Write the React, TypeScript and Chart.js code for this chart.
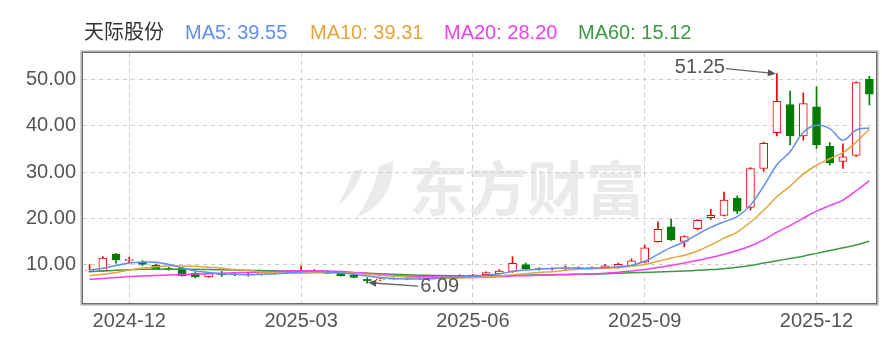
import React, { useEffect, useRef } from "react";
import { Chart, registerables } from "chart.js";

Chart.register(...registerables);

// Weekly K-line for 天际股份 with moving averages
const stockName = "天际股份";

const weekOpen = [
  8.7, 8.7, 12.3, 11.0, 10.7, 10.0, 9.3, 9.3, 8.2, 7.4,
  8.2, 8.0, 7.9, 8.0, 8.3, 8.4, 8.6, 8.7, 8.6, 8.2,
  7.8, 6.9, 6.8, 6.9, 7.0, 7.1, 7.2, 7.4, 7.6, 7.7,
  7.9, 8.1, 8.6, 10.1, 9.2, 9.1, 9.2, 9.4, 9.3, 9.3,
  9.4, 9.8, 10.6, 15.0, 18.2, 15.1, 17.8, 20.2, 20.7, 24.4,
  22.4, 30.8, 38.5, 44.6, 37.8, 44.1, 35.6, 32.3, 33.6, 50.0,
];
const weekHigh = [
  10.1, 11.8, 12.5, 11.7, 10.9, 10.2, 9.5, 9.5, 8.4, 8.4,
  8.6, 8.2, 8.2, 8.4, 8.6, 8.8, 9.8, 9.0, 8.8, 8.3,
  7.9, 7.2, 7.1, 7.2, 7.3, 7.4, 7.5, 7.8, 7.9, 8.0,
  8.5, 9.0, 11.8, 10.4, 9.4, 9.4, 9.8, 9.6, 9.6, 10.1,
  10.4, 11.3, 14.3, 19.3, 19.9, 16.3, 19.8, 22.0, 25.7, 24.9,
  31.0, 36.5, 51.25, 47.5, 47.1, 48.4, 36.4, 36.1, 49.5, 50.7,
];
const weekLow = [
  8.5, 8.6, 10.4, 10.5, 9.9, 9.0, 8.9, 7.6, 7.2, 7.3,
  7.5, 7.7, 7.6, 7.8, 8.0, 8.2, 8.4, 8.4, 8.1, 7.6,
  7.2, 6.09, 6.6, 6.8, 6.8, 6.9, 7.0, 7.2, 7.4, 7.5,
  7.8, 8.0, 8.4, 9.0, 8.9, 8.9, 8.9, 9.1, 9.1, 9.2,
  9.3, 9.7, 10.5, 14.9, 15.3, 13.9, 17.6, 19.8, 20.6, 21.1,
  21.85, 30.2, 37.8, 35.9, 36.9, 35.1, 31.5, 30.8, 33.4, 44.5,
];
const weekClose = [
  8.85, 11.5, 11.1, 11.2, 10.1, 9.2, 9.1, 7.7, 7.4, 8.2,
  7.9, 7.9, 8.0, 8.3, 8.4, 8.6, 8.7, 8.6, 8.2, 7.7,
  7.3, 6.6, 7.0, 7.0, 7.1, 7.2, 7.3, 7.6, 7.7, 7.9,
  8.35, 8.7, 10.35, 9.2, 9.1, 9.2, 9.4, 9.3, 9.5, 9.8,
  10.15, 10.9, 13.7, 17.7, 15.4, 16.1, 19.6, 20.7, 24.0, 21.6,
  30.8, 36.2, 45.3, 37.8, 44.8, 35.9, 32.0, 33.3, 49.3, 46.8,
];

const ma5 = [
  8.9, 9.3, 9.9, 10.4, 10.6, 10.6, 10.1, 9.4, 8.7, 8.4,
  8.1, 8.0, 7.9, 8.0, 8.1, 8.3, 8.5, 8.6, 8.5, 8.3,
  8.0, 7.6, 7.3, 7.1, 7.0, 7.0, 7.1, 7.25, 7.4, 7.55,
  7.8, 8.1, 8.6, 8.9, 9.1, 9.25, 9.35, 9.3, 9.3, 9.4,
  9.6, 9.95, 10.8, 12.3, 13.8, 15.0, 16.6, 18.1, 19.3, 20.4,
  22.9, 27.0, 31.6, 34.4, 38.6, 40.1, 39.4, 36.9, 39.1, 39.55,
];
const ma10 = [
  7.7, 8.0, 8.4, 8.9, 9.3, 9.6, 9.8, 9.8, 9.7, 9.5,
  9.3, 9.0, 8.8, 8.5, 8.3, 8.2, 8.2, 8.3, 8.3, 8.3,
  8.2, 8.0, 7.8, 7.6, 7.4, 7.2, 7.1, 7.1, 7.2, 7.3,
  7.4, 7.6, 7.9, 8.1, 8.4, 8.55, 8.85, 9.1, 9.2, 9.3,
  9.45, 9.7, 10.1, 10.8, 11.5, 12.1, 13.0, 14.3, 15.8, 17.1,
  19.2, 21.8, 24.7, 27.0, 29.6, 31.5, 32.9, 34.2, 36.5, 39.31,
];
const ma20 = [
  6.9, 7.1, 7.3, 7.5, 7.6, 7.75, 7.85, 7.95, 8.05, 8.1,
  8.2, 8.3, 8.4, 8.5, 8.6, 8.7, 8.75, 8.75, 8.7, 8.6,
  8.4, 8.2, 7.95, 7.75, 7.6, 7.5, 7.42, 7.36, 7.32, 7.3,
  7.35, 7.45, 7.6, 7.7, 7.8, 7.85, 7.9, 8.0, 8.1, 8.2,
  8.45, 8.7, 9.0, 9.45, 9.9, 10.4, 11.0, 11.6, 12.3, 13.1,
  14.1, 15.4, 17.1, 18.5, 20.1, 21.6, 22.8, 24.0, 26.0, 28.20,
];
const ma60 = [
  8.55, 8.7, 8.85, 8.95, 9.05, 9.1, 9.1, 9.1, 9.05, 9.0,
  8.95, 8.9, 8.85, 8.8, 8.75, 8.7, 8.65, 8.6, 8.5, 8.4,
  8.3, 8.2, 8.1, 8.0, 7.9, 7.8, 7.75, 7.7, 7.65, 7.65,
  7.65, 7.7, 7.75, 7.8, 7.85, 7.9, 7.95, 8.0, 8.05, 8.1,
  8.2, 8.3, 8.4, 8.5, 8.6, 8.7, 8.85, 9.0, 9.2, 9.5,
  9.9, 10.4, 10.9, 11.4, 11.9, 12.5, 13.1, 13.7, 14.3, 15.12,
];

const maNames = ["MA5", "MA10", "MA20", "MA60"];
const maSeries = [ma5, ma10, ma20, ma60];
const maColors = ["#5f8ff0", "#e6a43c", "#f040f0", "#3c9a42"];
const maLegendX = [185, 310, 444, 578];

const xTickWeeks = [3, 16, 29, 42, 55];
const xTickLabels = ["2024-12", "2025-03", "2025-06", "2025-09", "2025-12"];
const yTickValues = [10, 20, 30, 40, 50];

const UP = "#f00000";
const DOWN = "#007d00";
const FONT = '"Liberation Sans", Arial, "Noto Sans CJK SC", sans-serif';

function drawArrow(ctx: CanvasRenderingContext2D, x0: number, y0: number, x1: number, y1: number) {
  const ang = Math.atan2(y1 - y0, x1 - x0);
  ctx.beginPath();
  ctx.moveTo(x0, y0);
  ctx.lineTo(x1 - Math.cos(ang) * 5, y1 - Math.sin(ang) * 5);
  ctx.stroke();
  ctx.beginPath();
  ctx.moveTo(x1, y1);
  ctx.lineTo(x1 - Math.cos(ang) * 8 + Math.sin(ang) * 3.5, y1 - Math.sin(ang) * 8 - Math.cos(ang) * 3.5);
  ctx.lineTo(x1 - Math.cos(ang) * 8 - Math.sin(ang) * 3.5, y1 - Math.sin(ang) * 8 + Math.cos(ang) * 3.5);
  ctx.closePath();
  ctx.fill();
}

const watermarkPlugin = {
  id: "watermark",
  beforeDraw(chart: any) {
    const { ctx, chartArea } = chart;
    const l = chartArea.left;
    const t = chartArea.top;
    ctx.save();
    ctx.fillStyle = "#eaeaea";
    // swoosh logo
    ctx.beginPath();
    ctx.moveTo(l + 310, t + 108);
    ctx.quadraticCurveTo(l + 312, t + 148, l + 273, t + 165);
    ctx.quadraticCurveTo(l + 292, t + 138, l + 296, t + 113);
    ctx.closePath();
    ctx.fill();
    ctx.beginPath();
    ctx.moveTo(l + 280, t + 116);
    ctx.quadraticCurveTo(l + 272, t + 140, l + 255, t + 152);
    ctx.quadraticCurveTo(l + 265, t + 134, l + 270, t + 118);
    ctx.closePath();
    ctx.fill();
    ctx.font = 'bold 59px "Noto Sans CJK SC", sans-serif';
    ctx.textAlign = "left";
    ctx.textBaseline = "middle";
    ctx.fillText("东方财富", l + 326, t + 136);
    ctx.restore();
  },
};

const framePlugin = {
  id: "frameAndMarks",
  afterDraw(chart: any) {
    const { ctx, chartArea, scales } = chart;
    const { left, top, right, bottom } = chartArea;
    ctx.save();
    ctx.lineWidth = 1.5;
    ctx.strokeStyle = "#d4d4d4";
    ctx.strokeRect(left - 2.25, top - 2.25, right - left + 4.5, bottom - top + 4.5);
    ctx.strokeStyle = "#6e6e6e";
    ctx.strokeRect(left - 0.75, top - 0.75, right - left + 1.5, bottom - top + 1.5);

    // highest high and lowest low markers
    let hi = 0;
    let lo = 0;
    weekHigh.forEach((v, i) => { if (v > weekHigh[hi]) hi = i; });
    weekLow.forEach((v, i) => { if (v < weekLow[lo]) lo = i; });
    const xs = scales.x;
    const ys = scales.y;
    ctx.font = `20px ${FONT}`;
    ctx.fillStyle = "#555";
    ctx.strokeStyle = "#666";
    ctx.lineWidth = 1.4;

    const hx = xs.getPixelForValue(hi);
    const hy = ys.getPixelForValue(weekHigh[hi]);
    ctx.textAlign = "right";
    ctx.textBaseline = "middle";
    ctx.fillText(weekHigh[hi].toFixed(2), hx - 52, hy - 6);
    drawArrow(ctx, hx - 51, hy - 5, hx - 1, hy);

    const lx = xs.getPixelForValue(lo);
    const ly = ys.getPixelForValue(weekLow[lo]);
    ctx.textAlign = "left";
    ctx.fillText(weekLow[lo].toFixed(2), lx + 53, ly + 3);
    drawArrow(ctx, lx + 51, ly + 3, lx + 1, ly - 0.5);
    ctx.restore();
  },
};

export default function App() {
  const canvasRef = useRef<HTMLCanvasElement>(null);

  useEffect(() => {
    const canvas = canvasRef.current;
    if (!canvas) return;
    const idx = weekClose.map((_, i) => i);
    const rising = idx.map((i) => weekClose[i] >= weekOpen[i]);
    const candleColor = rising.map((u) => (u ? UP : DOWN));

    const lineSets = maSeries.map((series, k) => ({
      type: "line" as const,
      label: maNames[k],
      data: idx.map((i) => ({ x: i, y: series[i] })),
      borderColor: maColors[k],
      borderWidth: 1.5,
      pointRadius: 0,
      tension: 0.35,
      fill: false,
      order: 0,
    }));

    const chart = new Chart(canvas, {
      type: "bar",
      data: {
        datasets: [
          ...lineSets,
          {
            type: "bar",
            label: "body",
            data: idx.map((i) => ({ x: i, y: [weekOpen[i], weekClose[i]] })),
            backgroundColor: rising.map((u) => (u ? "#ffffff" : DOWN)),
            borderColor: candleColor,
            borderWidth: 1,
            borderSkipped: false,
            barThickness: 8,
            grouped: false,
            order: 1,
          },
          {
            type: "bar",
            label: "wick",
            data: idx.map((i) => ({ x: i, y: [weekLow[i], weekHigh[i]] })),
            backgroundColor: candleColor,
            borderWidth: 0,
            barThickness: 1,
            grouped: false,
            order: 2,
          },
        ] as any,
      },
      options: {
        animation: false,
        responsive: false,
        devicePixelRatio: 1,
        events: [],
        layout: { padding: { top: 53, right: 6, left: 0, bottom: 0 } },
        plugins: { legend: { display: false }, tooltip: { enabled: false } },
        scales: {
          x: {
            type: "linear",
            min: -0.5,
            max: 59.5,
            offset: false,
            afterBuildTicks: (s: any) => {
              s.ticks = xTickWeeks.map((v) => ({ value: v }));
            },
            afterFit: (s: any) => {
              s.height = 37;
            },
            ticks: {
              autoSkip: false,
              maxRotation: 0,
              padding: 6,
              color: "#555",
              font: { size: 20, family: FONT },
              callback: (v: any) => {
                const k = xTickWeeks.indexOf(Number(v));
                return k >= 0 ? xTickLabels[k] : "";
              },
            },
            grid: { color: "#cccccc", lineWidth: 1, drawTicks: false, offset: false },
            border: { display: false, dash: [4, 4] },
          },
          y: {
            type: "linear",
            min: 1.8,
            max: 55.7,
            afterBuildTicks: (s: any) => {
              s.ticks = yTickValues.map((v) => ({ value: v }));
            },
            afterFit: (s: any) => {
              s.width = 83;
            },
            ticks: {
              padding: 7,
              color: "#555",
              font: { size: 20, family: FONT },
              callback: (v: any) => Number(v).toFixed(2),
            },
            grid: { color: "#cccccc", lineWidth: 1, drawTicks: false },
            border: { display: false, dash: [4, 4] },
          },
        },
      } as any,
      plugins: [watermarkPlugin, framePlugin],
    });

    return () => chart.destroy();
  }, []);

  return (
    <div
      style={{
        position: "fixed",
        left: 0,
        top: 0,
        width: 882,
        height: 340,
        background: "#ffffff",
        overflow: "hidden",
        fontFamily: FONT,
      }}
    >
      <canvas ref={canvasRef} width={882} height={340} style={{ position: "absolute", left: 0, top: 0 }} />
      <span
        style={{ position: "absolute", left: 84, top: 22, fontSize: 20, lineHeight: "20px", color: "#333", whiteSpace: "nowrap" }}
      >
        {stockName}
      </span>
      {maNames.map((name, k) => (
        <span
          key={name}
          style={{
            position: "absolute",
            left: maLegendX[k],
            top: 22,
            fontSize: 20,
            lineHeight: "20px",
            color: maColors[k],
            whiteSpace: "nowrap",
          }}
        >
          {`${name}: ${maSeries[k][maSeries[k].length - 1].toFixed(2)}`}
        </span>
      ))}
    </div>
  );
}
